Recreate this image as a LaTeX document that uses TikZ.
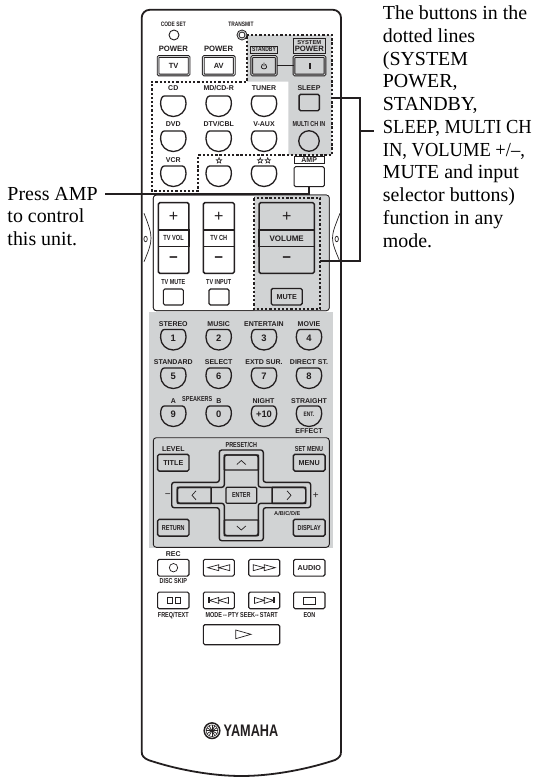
\documentclass[tikz,border=0pt]{standalone}
\usepackage{graphicx}
\usepackage{fontspec}
\setmainfont{Liberation Serif}
\setsansfont{Liberation Sans}
\newfontfamily\narrowfont[FakeStretch=0.76]{Liberation Sans}
\newfontfamily\starfont[FakeBold=1.5]{DejaVu Sans}
\definecolor{rcink}{RGB}{35,31,32}
\definecolor{rcgray}{RGB}{209,211,212}
\tikzset{
  notetext/.style={font=\rmfamily\fontsize{19.9}{22.75}\selectfont, align=left, inner sep=0pt, anchor=north west, text=black},
  keylabel/.style={font=\sffamily\bfseries\fontsize{7}{7.5}\selectfont, inner sep=0pt, text=rcink},
  biglabel/.style={font=\sffamily\bfseries\fontsize{7.7}{8}\selectfont, inner sep=0pt, text=rcink},
  thinlabel/.style={font=\narrowfont\bfseries\fontsize{7.2}{7.5}\selectfont, inner sep=0pt, text=rcink},
  digitlabel/.style={font=\sffamily\bfseries\fontsize{9.4}{9.4}\selectfont, inner sep=0pt, text=rcink},
  signlabel/.style={font=\sffamily\fontsize{16}{16}\selectfont, inner sep=0pt, text=rcink},
  minuslabel/.style={font=\sffamily\bfseries\fontsize{15}{15}\selectfont, inner sep=0pt, text=rcink},
  flatkey/.style={draw=rcink, line width=1.4pt, rounded corners=1.5pt, inner sep=0pt, font=\sffamily\bfseries\fontsize{7.2}{7.5}\selectfont, text=rcink},
  twinkey/.style={draw=rcink, line width=0.9pt, double=rcgray, double distance=0.9pt, rounded corners=1pt, inner sep=0pt, font=\sffamily\bfseries\fontsize{7.5}{8}\selectfont, text=rcink},
  rocker/.style={draw=rcink, line width=1.5pt, rounded corners=1.5pt, inner sep=0pt},
  strip/.style={draw=rcink, line width=1.3pt, inner sep=0pt, text=rcink},
  tagbox/.style={draw=rcink, line width=0.7pt, inner sep=0pt, text=rcink, align=center},
  dotline/.style={draw=rcink, line width=2.2pt, dash pattern=on 2.3pt off 1.9pt},
  leader/.style={draw=rcink, line width=1.7pt},
  thinpath/.style={draw=rcink, line width=0.7pt},
  crossline/.style={draw=rcink, line width=1.4pt, rounded corners=2.5pt, fill=rcgray},
  roundkey/.pic={\draw[rcink, line width=1.3pt] (-9,-10) .. controls (-11.5,-10) and (-12.7,-6.5) .. (-12.7,-2) .. controls (-12.7,5) and (-7,10.5) .. (0,10.5) .. controls (7,10.5) and (12.7,5) .. (12.7,-2) .. controls (12.7,-6.5) and (11.5,-10) .. (9,-10) -- cycle;},
}
\begin{document}
\begin{tikzpicture}[x=1pt, y=-1pt]
  \useasboundingbox (0,0) rectangle (544,777);
  \draw[rcink, line width=1.8pt, fill=white] (141.7,700) [rounded corners=8pt] -- (141.7,9.8) -- (341,9.8) [sharp corners] -- (341,751.7) .. controls (341,756) and (339,758) .. (335,760) .. controls (305,770) and (270,776) .. (241.5,776) .. controls (213,776) and (178,770) .. (148.3,760) .. controls (144,758) and (141.7,756) .. (141.7,751.7) -- cycle;

  \fill[rcgray] (247,35) -- (331.7,35) -- (331.7,155) -- (288.3,155) -- (288.3,81.7) -- (247,81.7) -- cycle;
  \fill[rcgray] (149,311.7) rectangle (332.7,548.3);
  \draw[thinpath, fill=white, rounded corners=3pt] (153.3,195) rectangle (329.3,310.7);
  \fill[rcgray] (254.3,195) [rounded corners=3pt] -- (329.3,195) -- (329.3,310.7) [sharp corners] -- (254.3,310.7) -- cycle;
  \draw[thinpath, rounded corners=3pt] (153.3,195) rectangle (329.3,310.7);
  \draw[thinpath, line width=0.9pt, fill=rcgray, rounded corners=3pt] (153.3,437.7) rectangle (329.3,547.3);

  \draw[dotline] (246.7,35) -- (331.7,35) -- (331.7,155) -- (198.3,155) -- (198.3,190.7) -- (151.7,190.7) -- (151.7,81.7) -- (246.7,81.7) -- cycle;
  \draw[dotline] (254.3,198.3) rectangle (320,309.3);

  \draw[thinpath] (144,213.3) .. controls (149,226) and (151,232) .. (151,238) .. controls (151,244) and (149,250) .. (144,261.7);
  \draw[thinpath] (340,213.3) .. controls (335,226) and (332.5,232) .. (332.5,238) .. controls (332.5,244) and (335,250) .. (340,261.7);
  \draw[thinpath] (145.6,239) ellipse [x radius=1.7, y radius=2.8];
  \draw[thinpath] (336.7,239) ellipse [x radius=1.7, y radius=2.8];

  \node[thinlabel, font=\narrowfont\bfseries\fontsize{6.4}{7}\selectfont] (lbcode) at (173.3,24.3) {CODE SET};
  \node[thinlabel, font=\narrowfont\bfseries\fontsize{6.4}{7}\selectfont] (lbtrans) at (241,24.3) {TRANSMIT};
  \node[circle, draw=rcink, line width=0.9pt, minimum size=10pt, inner sep=0pt] (kcode) at (174,35) {};
  \node[circle, draw=rcink, line width=0.9pt, double=rcgray, double distance=0.9pt, minimum size=8pt, inner sep=0pt] (ktrans) at (242,35) {};

  \node[biglabel] (lbpowtv) at (173.3,49.3) {POWER};
  \node[biglabel] (lbpowav) at (218.6,49.3) {POWER};
  \node[twinkey, fill=white, minimum width=31pt, minimum height=18.5pt] (ktv) at (173.6,65.7) {TV};
  \node[twinkey, fill=white, minimum width=31pt, minimum height=18.5pt] (kav) at (218.8,65.7) {AV};
  \node[tagbox, minimum width=26.6pt, minimum height=7.4pt, font=\narrowfont\bfseries\fontsize{6.6}{7}\selectfont] (lbstandby) at (264,49.7) {STANDBY};
  \node[tagbox, minimum width=31.5pt, minimum height=14.6pt, font=\sffamily\bfseries\fontsize{5.8}{6.6}\selectfont] (lbsystem) at (309.3,46) {SYSTEM\\{\fontsize{7.7}{7.7}\selectfont POWER}};
  \node[twinkey, minimum width=24.5pt, minimum height=18.5pt] (kstandby) at (264,65.7) {};
  \node[twinkey, minimum width=31pt, minimum height=18.5pt] (ksystem) at (309.5,65.7) {};
  \draw[rcink, line width=0.9pt] (kstandby.east) -- (ksystem.west);
  \draw[rcink, line width=0.8pt, shift={(264,65.7)}] (-1.6,-1.6) .. controls (-3.5,0) and (-3,3.2) .. (0,3.2) .. controls (3,3.2) and (3.5,0) .. (1.6,-1.6) (0,-3.2) -- (0,0.6);
  \fill[rcink] (308.5,62.7) rectangle (310.5,68.7);

  \node[keylabel] (lbcd) at (173.3,88.3) {CD};
  \node[keylabel] (lbmd) at (218.7,88.3) {MD/CD-R};
  \node[keylabel] (lbtuner) at (264,88.3) {TUNER};
  \node[keylabel] (lbsleep) at (309,88.3) {SLEEP};
  \pic (kcd) at (173.3,106) {roundkey};
  \pic (kmd) at (218.7,106) {roundkey};
  \pic (ktuner) at (264,106) {roundkey};
  \node[flatkey, minimum width=20.3pt, minimum height=16.4pt] (ksleep) at (309.2,102.5) {};

  \node[keylabel] (lbdvd) at (173.3,124.3) {DVD};
  \node[keylabel] (lbdtv) at (218.7,124.3) {DTV/CBL};
  \node[keylabel] (lbvaux) at (264,124.3) {V-AUX};
  \node[thinlabel] (lbmulti) at (309,124.3) {MULTI CH IN};
  \pic (kdvd) at (173.3,141) {roundkey};
  \pic (kdtv) at (218.7,141) {roundkey};
  \pic (kvaux) at (264,141) {roundkey};
  \node[circle, draw=rcink, line width=1.3pt, minimum size=20.5pt, inner sep=0pt] (kmulti) at (309,141) {};

  \node[keylabel] (lbvcr) at (173.3,160.3) {VCR};
  \node[keylabel, font=\starfont\fontsize{8.5}{8.5}\selectfont] (lbstara) at (219,160.3) {☆};
  \node[keylabel, font=\starfont\fontsize{8.5}{8.5}\selectfont] (lbstarb) at (264,160.3) {☆☆};
  \node[tagbox, minimum width=29.7pt, minimum height=6.6pt, font=\sffamily\bfseries\fontsize{7}{7}\selectfont] (lbamp) at (309.2,160) {AMP};
  \pic (kvcr) at (173.3,176) {roundkey};
  \pic (kstara) at (218.7,176) {roundkey};
  \pic (kstarb) at (264,176) {roundkey};
  \node[flatkey, line width=1pt, fill=white, minimum width=30.3pt, minimum height=20pt] (kamp) at (309.2,176.7) {};

  \node[rocker, minimum width=30.7pt, minimum height=70.6pt] (kvol) at (173.6,238) {};
  \node[rocker, minimum width=31pt, minimum height=70.6pt] (kch) at (218.8,238) {};
  \node[rocker, minimum width=55.3pt, minimum height=70.6pt] (kvolume) at (286.7,238) {};
  \node[strip, minimum width=30.7pt, minimum height=16.7pt, font=\narrowfont\bfseries\fontsize{7.4}{8}\selectfont] (lbtvvol) at (173.6,238.4) {TV VOL};
  \node[strip, minimum width=31pt, minimum height=16.7pt, font=\narrowfont\bfseries\fontsize{7.4}{8}\selectfont] (lbtvch) at (218.8,238.4) {TV CH};
  \node[strip, minimum width=55.3pt, minimum height=16.7pt, font=\sffamily\bfseries\fontsize{8}{8}\selectfont] (lbvolume) at (286.7,238.4) {VOLUME};
  \node[signlabel] (plvol) at (173.6,216.7) {+};
  \node[signlabel] (plch) at (218.8,216.7) {+};
  \node[signlabel] (plvolume) at (286.7,216.7) {+};
  \node[minuslabel] (mnvol) at (173.6,260) {−};
  \node[minuslabel] (mnch) at (218.8,260) {−};
  \node[minuslabel] (mnvolume) at (286.7,260) {−};
  \node[thinlabel] (lbtvmute) at (173.3,282.3) {TV MUTE};
  \node[thinlabel] (lbtvinput) at (218.7,282.3) {TV INPUT};
  \node[flatkey, line width=1.1pt, minimum width=20pt, minimum height=16pt] (ktvmute) at (173.3,297) {};
  \node[flatkey, line width=1.1pt, minimum width=20pt, minimum height=16pt] (ktvinput) at (219,297) {};
  \node[flatkey, minimum width=31pt, minimum height=16.5pt] (kmute) at (286.7,296.7) {MUTE};

  \node[keylabel] (lbstereo) at (173.3,324.3) {STEREO};
  \node[keylabel] (lbmusic) at (218.7,324.3) {MUSIC};
  \node[keylabel] (lbentertain) at (264,324.3) {ENTERTAIN};
  \node[keylabel] (lbmovie) at (309,324.3) {MOVIE};
  \pic (kone) at (173.3,339.5) {roundkey};
  \pic (ktwo) at (218.7,339.5) {roundkey};
  \pic (kthree) at (264,339.5) {roundkey};
  \pic (kfour) at (309,339.5) {roundkey};
  \node[digitlabel] (dgone) at (173.3,338.5) {1};
  \node[digitlabel] (dgtwo) at (218.7,338.5) {2};
  \node[digitlabel] (dgthree) at (264,338.5) {3};
  \node[digitlabel] (dgfour) at (309,338.5) {4};

  \node[keylabel] (lbstandard) at (173.3,362.3) {STANDARD};
  \node[keylabel] (lbselect) at (218.7,362.3) {SELECT};
  \node[keylabel] (lbextd) at (264,362.3) {EXTD SUR.};
  \node[keylabel] (lbdirect) at (309,362.3) {DIRECT ST.};
  \pic (kfive) at (173.3,378) {roundkey};
  \pic (ksix) at (218.7,378) {roundkey};
  \pic (kseven) at (264,378) {roundkey};
  \pic (keight) at (309,378) {roundkey};
  \node[digitlabel] (dgfive) at (173.3,376.5) {5};
  \node[digitlabel] (dgsix) at (218.7,376.5) {6};
  \node[digitlabel] (dgseven) at (264,376.5) {7};
  \node[digitlabel] (dgeight) at (309,376.5) {8};

  \node[keylabel] (lba) at (173.3,400.7) {A};
  \node[thinlabel] (lbspeakers) at (197.3,399.3) {SPEAKERS};
  \node[keylabel] (lbb) at (219,400.7) {B};
  \node[keylabel] (lbnight) at (263.5,400.7) {NIGHT};
  \node[keylabel] (lbstraight) at (309,400.7) {STRAIGHT};
  \pic (knine) at (173.3,416) {roundkey};
  \pic (kzero) at (218.7,416) {roundkey};
  \pic (kten) at (264,416) {roundkey};
  \pic (kent) at (309,416) {roundkey};
  \node[digitlabel] (dgnine) at (173.3,414.7) {9};
  \node[digitlabel] (dgzero) at (218.7,414.7) {0};
  \node[digitlabel] (dgten) at (264,414.7) {+10};
  \node[thinlabel, font=\narrowfont\bfseries\fontsize{6.4}{7}\selectfont] (dgent) at (309,414.7) {ENT.};
  \node[keylabel] (lbeffect) at (309,431.3) {EFFECT};

  \draw[crossline] (219.3,450) -- (263.3,450) -- (263.3,482.3) -- (310.7,482.3) -- (310.7,507.7) -- (263.3,507.7) -- (263.3,540.7) -- (219.3,540.7) -- (219.3,507.7) -- (171.7,507.7) -- (171.7,482.3) -- (219.3,482.3) -- cycle;
  \draw[crossline] (224.3,455) -- (258.3,455) -- (258.3,487.3) -- (305.7,487.3) -- (305.7,503.3) -- (258.3,503.3) -- (258.3,535.7) -- (224.3,535.7) -- (224.3,503.3) -- (177.3,503.3) -- (177.3,487.3) -- (224.3,487.3) -- cycle;
  \node[flatkey, rounded corners=0.5pt, minimum width=34pt, minimum height=15pt] (kup) at (241.3,462.5) {};
  \node[flatkey, rounded corners=0.5pt, minimum width=34pt, minimum height=15.7pt] (kdown) at (241.3,527.8) {};
  \node[flatkey, rounded corners=0.5pt, minimum width=33.7pt, minimum height=16pt] (kleft) at (194.2,495.3) {};
  \node[flatkey, rounded corners=0.5pt, minimum width=33.7pt, minimum height=16pt] (kright) at (288.9,495.3) {};
  \node[flatkey, rounded corners=1pt, line width=1.2pt, minimum width=30.7pt, minimum height=16pt, font=\narrowfont\bfseries\fontsize{7.2}{7.5}\selectfont] (kenter) at (241.3,495.3) {ENTER};
  \draw[thinpath] (236.8,464.5) -- (241.3,460.5) -- (245.8,464.5);
  \draw[thinpath] (236.8,526) -- (241.3,530) -- (245.8,526);
  \draw[thinpath] (196,490.8) -- (192,495.3) -- (196,499.8);
  \draw[thinpath] (287,490.8) -- (291,495.3) -- (287,499.8);

  \node[keylabel] (lblevel) at (173.3,449.3) {LEVEL};
  \node[thinlabel] (lbpreset) at (241.3,445) {PRESET/CH};
  \node[thinlabel] (lbsetmenu) at (309,449.3) {SET MENU};
  \node[flatkey, minimum width=31.3pt, minimum height=16.7pt] (ktitle) at (173.3,462.7) {TITLE};
  \node[flatkey, minimum width=31.7pt, minimum height=16.7pt] (kmenu) at (309.2,462.7) {MENU};
  \node[minuslabel, font=\sffamily\fontsize{10}{10}\selectfont] (lbminus) at (167.7,495.3) {−};
  \node[minuslabel, font=\sffamily\fontsize{10}{10}\selectfont] (lbplus) at (315.7,495.3) {+};
  \node[thinlabel, font=\sffamily\bfseries\fontsize{5.6}{6}\selectfont] (lbabc) at (287.3,513.7) {A/B/C/D/E};
  \node[flatkey, font=\narrowfont\bfseries\fontsize{7.2}{7.5}\selectfont, minimum width=31.3pt, minimum height=16.7pt] (kreturn) at (173.3,527.7) {RETURN};
  \node[flatkey, font=\narrowfont\bfseries\fontsize{7.2}{7.5}\selectfont, minimum width=31.7pt, minimum height=16.7pt] (kdisplay) at (309.2,527.7) {DISPLAY};

  \node[keylabel] (lbrec) at (173.3,554.3) {REC};
  \node[flatkey, line width=1.1pt, minimum width=31.3pt, minimum height=16.7pt] (krec) at (173.3,567.7) {};
  \node[circle, draw=rcink, line width=0.7pt, minimum size=8.4pt, inner sep=0pt] (icrec) at (173.5,567.7) {};
  \node[thinlabel] (lbdisc) at (173.3,581.3) {DISC SKIP};
  \node[flatkey, line width=1.1pt, minimum width=31pt, minimum height=16.7pt] (krew) at (218.8,567.7) {};
  \node[flatkey, line width=1.1pt, minimum width=31pt, minimum height=16.7pt] (kfwd) at (264.2,567.7) {};
  \node[flatkey, line width=1.1pt, minimum width=31.3pt, minimum height=16.7pt] (kaudio) at (309.3,567.7) {AUDIO};
  \draw[thinpath] (207.8,567.7) -- (218.8,564.7) -- (218.8,570.7) -- cycle (218.8,567.7) -- (229.8,564.7) -- (229.8,570.7) -- cycle;
  \draw[thinpath] (275.2,567.7) -- (264.2,564.7) -- (264.2,570.7) -- cycle (264.2,567.7) -- (253.2,564.7) -- (253.2,570.7) -- cycle;

  \node[flatkey, line width=1.1pt, minimum width=31.3pt, minimum height=16.7pt] (kfreq) at (173.3,600.4) {};
  \node[flatkey, line width=1.1pt, minimum width=31pt, minimum height=16.7pt] (kskipl) at (218.8,600.4) {};
  \node[flatkey, line width=1.1pt, minimum width=31pt, minimum height=16.7pt] (kskipr) at (264.2,600.4) {};
  \node[flatkey, line width=1.1pt, minimum width=31.3pt, minimum height=16.7pt] (keon) at (309.3,600.4) {};
  \draw[thinpath] (167.3,597.7) rectangle (172.5,603.2) (174.9,597.7) rectangle (180.1,603.2);
  \draw[thinpath] (209.5,600.4) -- (218.8,597.4) -- (218.8,603.4) -- cycle (218.8,600.4) -- (228.5,597.4) -- (228.5,603.4) -- cycle;
  \draw[rcink, line width=1.3pt] (209,597.4) -- (209,603.4);
  \draw[thinpath] (273.5,600.4) -- (264.2,597.4) -- (264.2,603.4) -- cycle (264.2,600.4) -- (254.5,597.4) -- (254.5,603.4) -- cycle;
  \draw[rcink, line width=1.3pt] (274,597.4) -- (274,603.4);
  \draw[thinpath] (303.3,597.4) rectangle (315.7,604);
  \node[thinlabel] (lbfreq) at (173.3,615.3) {FREQ/TEXT};
  \node[thinlabel] (lbmode) at (241.7,615.3) {MODE\,--\,PTY SEEK--\,START};
  \node[thinlabel] (lbeon) at (309.5,615.3) {EON};
  \node[flatkey, line width=1.1pt, minimum width=76.4pt, minimum height=20pt] (kplay) at (241.5,634.7) {};
  \draw[thinpath] (235.7,630) -- (251,634.3) -- (235.7,638.7) -- cycle;

  \draw[rcink, line width=1.5pt] (212,730.7) circle [radius=7.8];
  \draw[thinpath, line width=0.5pt] (212,730.7) circle [radius=5.8];
  \foreach \spoke in {0,30,...,330}
    \draw[rcink, line width=0.7pt] (212,730.7) -- ++(\spoke:5.8);
  \node[inner sep=0pt, text=rcink, font=\sffamily\bfseries\fontsize{16.7}{17}\selectfont] (lbyamaha) at (251,730.7) {\scalebox{.76}[1]{YAMAHA}};

  \node[notetext] (noteamp) at (7.3,186.8) {Press AMP\\to control\\this unit.};
  \node[notetext] (notemode) at (382.7,5.7) {The buttons in the\\dotted lines\\(SYSTEM\\POWER,\\STANDBY,\\\scalebox{.93}[1]{SLEEP, MULTI CH}\\\scalebox{.93}[1]{IN, VOLUME +/--,}\\MUTE and input\\selector buttons)\\function in any\\mode.};

  \coordinate (ampfree) at (105.3,193.7);
  \coordinate (dotuppr) at (331.7,98.3);
  \coordinate (dotlowr) at (320,261);
  \coordinate (busup) at (360,98.3);
  \coordinate (buslow) at (360,261);
  \coordinate (busmid) at (360,130.7);
  \coordinate (busend) at (374.3,130.7);
  \draw[leader] (ampfree) -- (ampfree -| kamp.south) -- (kamp.south);
  \draw[leader] (dotuppr) -- (busup) -- (buslow) -- (dotlowr);
  \draw[leader] (busmid) -- (busend);
\end{tikzpicture}
\end{document}
